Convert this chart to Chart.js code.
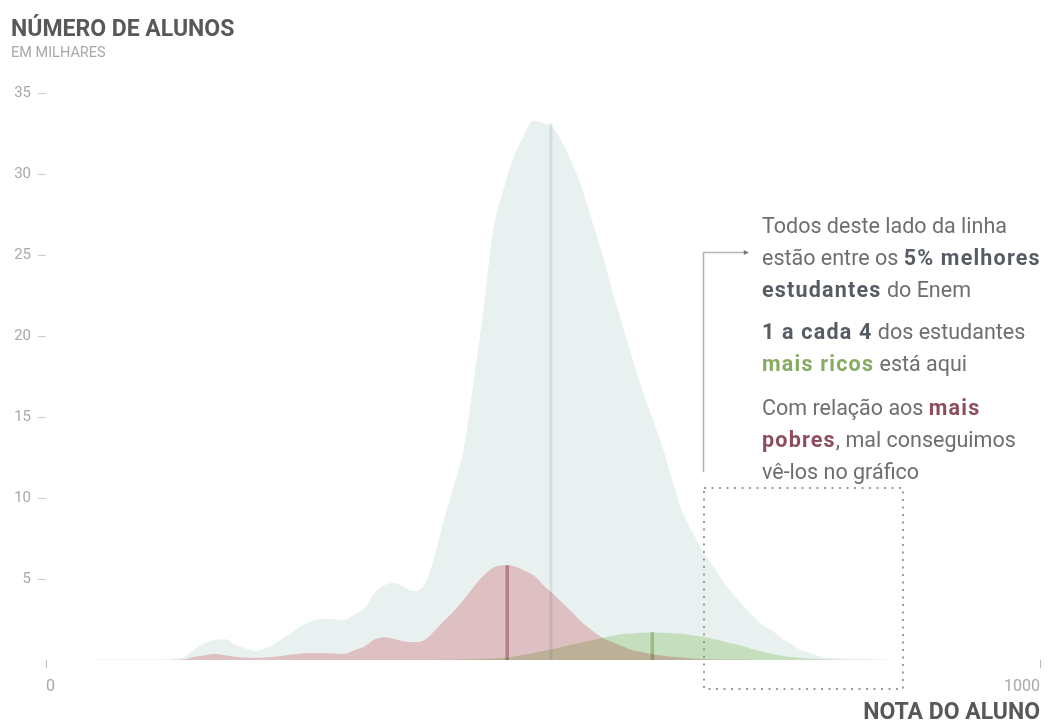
<!DOCTYPE html>
<html>
<head>
<meta charset="utf-8">
<script src="https://cdn.jsdelivr.net/npm/chart.js@4.4.1/dist/chart.umd.min.js"></script>
<style>
html,body{margin:0;padding:0;background:#fff;}
#wrap{position:relative;width:1051px;height:720px;overflow:hidden;}
#c{position:absolute;left:0;top:0;}
#note{position:absolute;left:762px;top:210px;font-family:Roboto,sans-serif;font-size:21.5px;line-height:32px;color:#6e6e6e;}
#note p{margin:0;white-space:nowrap;}
#note b{color:#575c63;font-weight:700;letter-spacing:1.2px;}
#note b.g{color:#86ab62;}
#note b.r{color:#8c4d5c;}
</style>
</head>
<body>
<div id="wrap">
<canvas id="c" width="1051" height="720"></canvas>
<div id="note">
<p>Todos deste lado da linha<br>estão entre os <b>5% melhores</b><br><b>estudantes</b> do Enem</p>
<p style="margin-top:10px"><b>1 a cada 4</b> dos estudantes<br><b class="g">mais ricos</b> está aqui</p>
<p style="margin-top:12px">Com relação aos <b class="r">mais</b><br><b class="r">pobres</b>, mal conseguimos<br>vê-los no gráfico</p>
</div>
</div>
<script>
// ---- data (scores of Enem, number of students in thousands) ----
const scores = [50,60,70,80,90,100,110,120,130,140,150,160,170,180,190,200,210,220,230,240,
  250,260,270,280,290,300,310,320,330,340,350,360,370,380,390,400,410,420,430,440,
  450,460,470,480,490,500,510,520,530,540,550,560,570,580,590,600,610,620,630,640,
  650,660,670,680,690,700,710,720,730,740,750,760,770,780,790,800,810,820,830,840,850];

const allStudents = [0.03,0.03,0.03,0.03,0.03,0.03,0.03,0.04,0.08,0.2,0.7,1.05,1.25,1.28,0.95,0.72,0.56,0.7,0.98,1.4,
  1.8,2.2,2.45,2.53,2.5,2.48,2.8,3.15,4.1,4.6,4.75,4.5,4.25,4.6,6.2,8.6,10.7,13.0,17.1,21.6,
  26.6,29.0,31.0,32.3,33.3,33.2,32.9,31.9,30.6,29.0,27.0,25.0,22.7,20.7,18.6,16.7,14.9,13.2,11.1,9.2,
  7.95,6.8,5.9,4.95,4.15,3.45,2.8,2.2,1.85,1.35,0.98,0.6,0.42,0.19,0.12,0.08,0.06,0.04,0.03,0.03,0.03];

const poorest = [0,0,0,0,0,0,0,0,0.01,0.05,0.2,0.3,0.37,0.3,0.2,0.15,0.12,0.15,0.2,0.28,
  0.35,0.42,0.43,0.43,0.4,0.37,0.6,0.82,1.25,1.4,1.3,1.15,1.1,1.2,1.75,2.4,3.0,3.7,4.5,5.2,
  5.7,5.85,5.8,5.55,5.25,4.65,4.1,3.5,2.9,2.28,1.8,1.36,1.1,0.85,0.6,0.48,0.36,0.28,0.2,0.15,
  0.1,0.06,0.04,0.02,0.01,0.01,0,0,0,0,0,0,0,0,0,0,0,0,0,0,0];

const richest = [0,0,0,0,0,0,0,0,0,0,0,0,0,0,0,0,0,0,0,0,
  0,0,0,0,0,0,0,0,0,0,0,0,0,0,0,0.01,0.02,0.04,0.06,0.08,
  0.1,0.12,0.2,0.33,0.42,0.55,0.68,0.82,0.97,1.1,1.22,1.38,1.5,1.6,1.64,1.68,1.72,1.68,1.66,1.62,
  1.52,1.45,1.32,1.18,1.02,0.88,0.68,0.52,0.38,0.27,0.18,0.12,0.07,0.05,0.03,0.02,0.01,0.01,0.01,0,0];

// median markers: [all, poorest, richest]
const medianScores = [508, 464, 610];
const medianHeights = [33.2, 5.86, 1.72];

const xTickValues = [0, 1000];
const yTickValues = [5, 10, 15, 20, 25, 30, 35];

// annotation anchors (in data units)
const boxScores = [661.5, 862];
const boxValues = [10.6, -1.8];
const arrowScores = [661, 703];
const arrowValues = [11.6, 25.2];

const toPts = arr => scores.map((s, i) => ({x: s, y: arr[i]}));
const medianLine = i => [{x: medianScores[i], y: 0}, {x: medianScores[i], y: medianHeights[i]}];

const FONT = 'Roboto, sans-serif';

const multiplyPlugin = {
  id: 'multiply',
  beforeDatasetsDraw(chart) { chart.ctx.save(); chart.ctx.globalCompositeOperation = 'multiply'; },
  afterDatasetsDraw(chart) { chart.ctx.restore(); }
};

const notePlugin = {
  id: 'note',
  afterDraw(chart) {
    const ctx = chart.ctx, xs = chart.scales.x, ys = chart.scales.y;
    ctx.save();
    // arrow
    const ax = Math.round(xs.getPixelForValue(arrowScores[0])) + 0.5;
    const ax2 = xs.getPixelForValue(arrowScores[1]);
    const ay0 = ys.getPixelForValue(arrowValues[0]);
    const ay1 = Math.round(ys.getPixelForValue(arrowValues[1])) + 0.5;
    ctx.strokeStyle = '#b3b3b3';
    ctx.lineWidth = 1.5;
    ctx.beginPath();
    ctx.moveTo(ax, ay0); ctx.lineTo(ax, ay1); ctx.lineTo(ax2, ay1);
    ctx.stroke();
    ctx.fillStyle = '#777';
    ctx.beginPath();
    ctx.moveTo(ax2 + 4, ay1); ctx.lineTo(ax2 - 1, ay1 - 2.5); ctx.lineTo(ax2 - 1, ay1 + 2.5);
    ctx.closePath(); ctx.fill();
    // dotted box
    const bx0 = xs.getPixelForValue(boxScores[0]), bx1 = xs.getPixelForValue(boxScores[1]);
    const by0 = ys.getPixelForValue(boxValues[0]), by1 = ys.getPixelForValue(boxValues[1]);
    ctx.strokeStyle = '#9a9a9a';
    ctx.lineWidth = 2;
    ctx.setLineDash([2, 5.5]);
    ctx.strokeRect(Math.round(bx0), Math.round(by0), Math.round(bx1 - bx0), Math.round(by1 - by0));
    ctx.restore();
  }
};

new Chart(document.getElementById('c'), {
  type: 'line',
  data: {
    datasets: [
      { label: 'Todos', data: toPts(allStudents), backgroundColor: '#e9f0f0', borderColor: 'rgba(0,0,0,0)', borderWidth: 1, fill: 'origin', pointRadius: 0, cubicInterpolationMode: 'monotone' },
      { label: 'Mais ricos', data: toPts(richest), backgroundColor: '#d8ecc9', borderColor: 'rgba(0,0,0,0)', borderWidth: 1, fill: 'origin', pointRadius: 0, cubicInterpolationMode: 'monotone' },
      { label: 'Mais pobres', data: toPts(poorest), backgroundColor: '#f3cbce', borderColor: 'rgba(0,0,0,0)', borderWidth: 1, fill: 'origin', pointRadius: 0, cubicInterpolationMode: 'monotone' },
      { label: 'Mediana todos', data: medianLine(0), borderColor: '#e6eded', borderWidth: 3, fill: false, pointRadius: 0 },
      { label: 'Mediana pobres', data: medianLine(1), borderColor: '#cfabaf', borderWidth: 3.5, fill: false, pointRadius: 0 },
      { label: 'Mediana ricos', data: medianLine(2), borderColor: '#c6d6b4', borderWidth: 3.5, fill: false, pointRadius: 0 }
    ]
  },
  options: {
    responsive: false,
    animation: false,
    devicePixelRatio: 1,
    layout: { padding: { left: 11, right: 11, top: 0, bottom: 0 } },
    plugins: {
      legend: { display: false },
      tooltip: { enabled: false },
      title: { display: true, text: 'NÚMERO DE ALUNOS', align: 'start', color: '#585858',
        font: { family: FONT, size: 23, weight: 'bold', lineHeight: 1.2 }, padding: { top: 16, bottom: 0 } },
      subtitle: { display: true, text: 'EM MILHARES', align: 'start', color: '#a8a8a8',
        font: { family: FONT, size: 14.5, lineHeight: 1.2 }, padding: { top: 1.3, bottom: 31.2 } }
    },
    scales: {
      x: {
        type: 'linear', min: 0, max: 1000,
        afterBuildTicks: s => { s.ticks = xTickValues.map(v => ({ value: v })); },
        afterFit: s => { s.height = 60; },
        border: { display: false },
        grid: { drawOnChartArea: false, drawTicks: true, tickLength: 8, tickColor: '#bbbbbb', lineWidth: 1 },
        ticks: { align: 'inner', padding: 9, color: '#a8a8a8', font: { family: FONT, size: 16 }, maxRotation: 0,
          callback: v => String(v) },
        title: { display: true, text: 'NOTA DO ALUNO', align: 'end', color: '#585858',
          font: { family: FONT, size: 23, weight: 'bold', lineHeight: 0.62 }, padding: 0 }
      },
      y: {
        type: 'linear', min: 0, max: 35,
        afterBuildTicks: s => { s.ticks = yTickValues.map(v => ({ value: v })); },
        afterFit: s => { s.width = 35; },
        border: { display: false },
        grid: { drawOnChartArea: false, drawTicks: true, tickLength: 8, tickColor: '#cccccc', lineWidth: 1 },
        ticks: { padding: 7, color: '#a8a8a8', font: { family: FONT, size: 15 }, callback: v => String(v) }
      }
    }
  },
  plugins: [multiplyPlugin, notePlugin]
});
</script>
</body>
</html>
